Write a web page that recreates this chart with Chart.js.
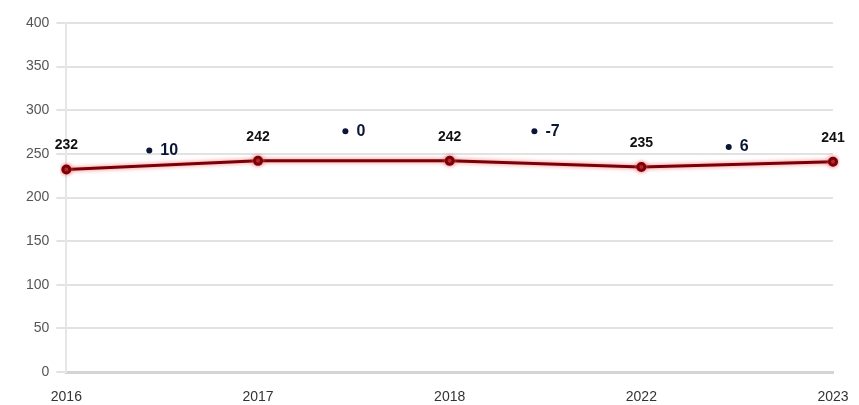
<!DOCTYPE html>
<html>

<head>
    <script src="https://cdn.jsdelivr.net/npm/chart.js@4.4.2/dist/chart.umd.min.js"></script>
    <style>
        html, body { margin: 0; padding: 0; background: #fff; }
    </style>
</head>

<body>
    <div style="position:relative; width:859px; height:405px">
        <canvas id="chart"></canvas>
    </div>
</body>
<script>
    const years = ['2016', '2017', '2018', '2022', '2023'];
    const values = [232, 242, 242, 235, 241];
    // change between consecutive years, shown between the points
    const deltaLabels = ['10', '0', '-7', '6'];
    const deltaPos = [0.5, 1.5, 2.5, 3.5];
    const deltaHeights = [254, 276, 276, 258];
    const yTicks = [0, 50, 100, 150, 200, 250, 300, 350, 400];

    const FONT = '"Liberation Sans", Arial, sans-serif';

    const labelPlugin = {
        id: 'labels',
        afterDatasetsDraw(chart) {
            const ctx = chart.ctx;
            ctx.save();
            ctx.font = 'bold 14px ' + FONT;
            ctx.fillStyle = '#111';
            ctx.textAlign = 'center';
            ctx.textBaseline = 'bottom';
            chart.getDatasetMeta(0).data.forEach((pt, i) => {
                ctx.fillText(values[i], pt.x, pt.y - 17);
            });
            // delta markers: small dot followed by the number, centred on the midpoint
            ctx.font = 'bold 16px ' + FONT;
            ctx.textAlign = 'left';
            ctx.textBaseline = 'middle';
            chart.getDatasetMeta(1).data.forEach((pt, i) => {
                const w = ctx.measureText(deltaLabels[i]).width;
                const total = 6 + 8 + w;
                const start = pt.x - total / 2;
                ctx.fillStyle = '#0a1633';
                ctx.beginPath();
                ctx.arc(start + 3, pt.y, 3, 0, Math.PI * 2);
                ctx.fill();
                ctx.fillText(deltaLabels[i], start + 14, pt.y);
            });
            ctx.restore();
        }
    };

    const glowPlugin = {
        id: 'glow',
        beforeDatasetDraw(chart, args) {
            if (args.index === 0) {
                chart.ctx.save();
                chart.ctx.shadowColor = 'rgba(240, 80, 80, 0.8)';
                chart.ctx.shadowBlur = 4;
            }
        },
        afterDatasetDraw(chart, args) {
            if (args.index === 0) chart.ctx.restore();
        }
    };

    const config = {
        type: 'line',
        data: {
            labels: years,
            datasets: [
                {
                    data: values,
                    borderColor: '#7a0008',
                    backgroundColor: '#7a0008',
                    borderWidth: 3,
                    pointRadius: 3.5,
                    pointHoverRadius: 3.5,
                    tension: 0,
                    xAxisID: 'x'
                },
                {
                    type: 'scatter',
                    data: deltaPos.map((x, i) => ({ x: x, y: deltaHeights[i] })),
                    pointRadius: 0,
                    showLine: false,
                    xAxisID: 'x2'
                }
            ]
        },
        options: {
            responsive: true,
            maintainAspectRatio: false,
            animation: false,
            layout: { padding: { left: 19, right: 26, top: 23, bottom: 0 } },
            plugins: {
                legend: { display: false },
                tooltip: { enabled: false }
            },
            scales: {
                x: {
                    type: 'category',
                    offset: false,
                    grid: { display: false, drawTicks: false },
                    border: { color: '#d4d4d4', width: 3 },
                    ticks: {
                        color: '#333',
                        font: { size: 14, family: FONT },
                        padding: 17,
                        maxRotation: 0
                    },
                    afterFit: (axis) => {
                        axis.height = 33;
                        axis.paddingLeft = 0;
                        axis.paddingRight = 0;
                    }
                },
                x2: {
                    type: 'linear',
                    min: 0,
                    max: 4,
                    display: false
                },
                y: {
                    min: 0,
                    max: 400,
                    afterBuildTicks: (axis) => { axis.ticks = yTicks.map(v => ({ value: v })); },
                    grid: { color: '#e2e2e2', lineWidth: 2, drawTicks: true, tickLength: 10 },
                    border: { color: '#e6e6e6', width: 2 },
                    ticks: {
                        color: '#555',
                        font: { size: 14, family: FONT },
                        padding: 7
                    }
                }
            }
        },
        plugins: [glowPlugin, labelPlugin]
    };

    new Chart(document.getElementById('chart'), config);
</script>

</html>
